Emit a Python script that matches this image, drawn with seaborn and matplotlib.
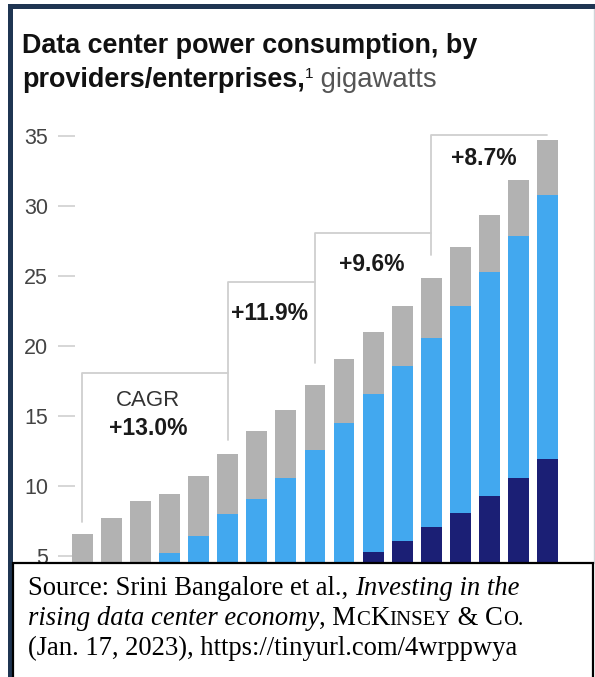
import matplotlib
matplotlib.use("Agg")
import pandas as pd
import matplotlib.pyplot as plt
import seaborn as sns
from matplotlib.patches import Rectangle

# ================================
# Data (gigawatts)
# ================================
years = [str(y) for y in range(2014, 2031)]
total_gw = [6.6, 7.7, 8.9, 9.4, 10.7, 12.3, 13.9, 15.4, 17.2, 19.1, 21.0, 22.9, 24.9, 27.1, 29.4, 31.9, 34.7]
light_blue_top = [0, 0, 0, 5.2, 6.4, 8.0, 9.1, 10.6, 12.6, 14.5, 16.6, 18.6, 20.6, 22.9, 25.3, 27.9, 30.8]
dark_blue_top = [0, 0, 0, 0, 0, 0, 0, 0, 0, 0, 5.3, 6.1, 7.1, 8.1, 9.3, 10.6, 11.9]

cagr_labels = ["+13.0%", "+11.9%", "+9.6%", "+8.7%"]
cagr_start = [0, 5, 8, 12]
cagr_end = [5, 8, 12, 16]
bracket_top = [18.1, 24.6, 28.1, 35.1]
bracket_low = [7.4, 13.3, 18.8, 26.5]

df = pd.DataFrame({"year": years, "total": total_gw,
                   "blue": light_blue_top, "dark": dark_blue_top})

GRAY = "#b2b2b2"
BLUE = "#42a8ef"
NAVY = "#1b1f75"

sns.set_style("white")
plt.rcParams["font.family"] = ["Liberation Sans", "DejaVu Sans"]

W, H = 595, 677
fig = plt.figure(figsize=(W / 100, H / 100), dpi=100)


def fx(px):
    return px / W


def fy(py):
    return 1 - py / H


# axes box in pixels: left 58, right 575, top 125, bottom 563
ax = fig.add_axes([fx(58), fy(563), fx(575) - fx(58), fy(125) - fy(563)])

# stacked bars drawn as overlapping cumulative heights
sns.barplot(data=df, x="year", y="total", color=GRAY, width=0.72, linewidth=0, saturation=1, ax=ax)
sns.barplot(data=df, x="year", y="blue", color=BLUE, width=0.72, linewidth=0, saturation=1, ax=ax)
sns.barplot(data=df, x="year", y="dark", color=NAVY, width=0.72, linewidth=0, saturation=1, ax=ax)

ax.set_xlim(-0.843, 16.948)
ax.set_ylim(4.5, 35.8)
ax.set_yticks([5, 10, 15, 20, 25, 30, 35])
ax.set_xlabel("")
ax.set_ylabel("")
for s in ax.spines.values():
    s.set_visible(False)
ax.set_axisbelow(True)
ax.tick_params(axis="x", bottom=False, labelbottom=False)
ax.tick_params(axis="y", left=True, direction="in", length=12.2, width=1.1,
               color="#cccccc", pad=7.2, labelsize=15.5, labelcolor="#444444")

# CAGR brackets
for i in range(len(cagr_labels)):
    x0, x1 = cagr_start[i], cagr_end[i]
    ax.plot([x0, x0, x1], [bracket_low[i], bracket_top[i], bracket_top[i]],
            color="#cfcfcf", lw=1.3, clip_on=False, zorder=0.8)

label_x = [2.25, 6.45, 9.96, 13.82]
label_y = [14.14, 22.36, 25.86, 33.43]
ax.text(2.25, 16.14, "CAGR", ha="center", va="center", fontsize=16, color="#333333")
for i, lab in enumerate(cagr_labels):
    ax.text(label_x[i], label_y[i], lab, ha="center", va="center",
            fontsize=16.5, fontweight="bold", color="#1a1a1a")

renderer = fig.canvas.get_renderer()


def adv(s, **kw):
    t1 = fig.text(0, 0, s + "|", **kw)
    t2 = fig.text(0, 0, "|", **kw)
    w = t1.get_window_extent(renderer).width - t2.get_window_extent(renderer).width
    t1.remove()
    t2.remove()
    return w


def runs(items, x0, base, z=5):
    x = x0
    for s, kw, dy in items:
        fig.text(fx(x), fy(base - dy), s, ha="left", va="baseline", zorder=z, **kw)
        x += adv(s, **kw)


# Title
tb = dict(fontsize=19.4, fontweight="bold", color="#111111")
runs([("providers/enterprises,", tb, 0),
      ("1", dict(fontsize=11, color="#111111"), 9),
      (" gigawatts", dict(fontsize=19.8, color="#555555"), 0)], 22, 87)
runs([("Data center power consumption, by", tb, 0)], 22, 53)

# frame lines
fig.add_artist(Rectangle((fx(8), fy(9)), 1 - fx(8), fy(4) - fy(9), transform=fig.transFigure,
                         facecolor="#1f3552", edgecolor="none", zorder=3))
fig.add_artist(Rectangle((fx(8), 0), fx(13) - fx(8), fy(4), transform=fig.transFigure,
                         facecolor="#1f3552", edgecolor="none", zorder=3))
fig.add_artist(plt.Line2D([fx(593.5), fx(593.5)], [fy(9), fy(563)], transform=fig.transFigure,
                          color="#d0d4d8", lw=1, zorder=3))

# source box covering the bottom of the chart
fig.add_artist(Rectangle((fx(13), fy(690)), fx(593) - fx(13), fy(563) - fy(690),
                         transform=fig.transFigure, facecolor="white", edgecolor="black",
                         lw=1.6, zorder=4))

serif = ["Liberation Serif", "DejaVu Serif"]
S = 19.2
sm = S * 0.78
rg = dict(fontsize=S, family=serif, color="black")
it = dict(fontsize=S, family=serif, style="italic", color="black")
sc = dict(fontsize=sm, family=serif, color="black")
runs([("Source: Srini Bangalore et al., ", rg, 0), ("Investing in the", it, 0)], 28, 595)
runs([("rising data center economy", it, 0), (", M", rg, 0), ("C", sc, 0), ("K", rg, 0),
      ("INSEY", sc, 0), (" & C", rg, 0), ("O.", sc, 0)], 28, 625)
runs([("(Jan. 17, 2023), https://tinyurl.com/4wrppwya", rg, 0)], 28, 655)

fig.savefig("out.png", dpi=100)
